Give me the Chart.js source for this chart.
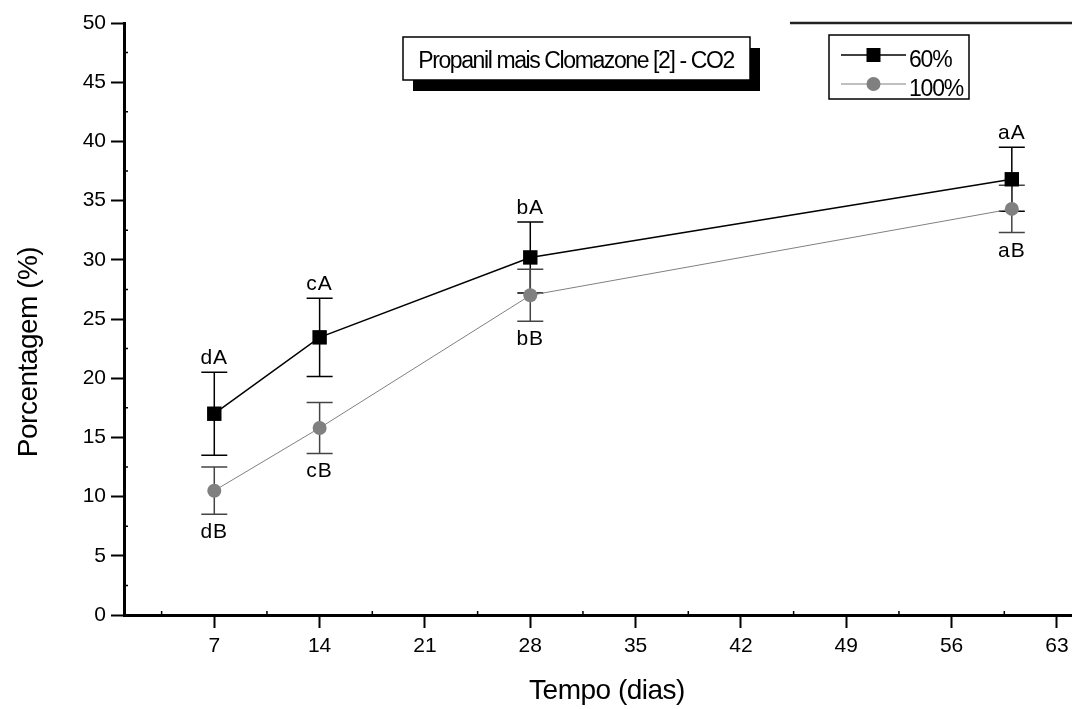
<!DOCTYPE html>
<html>
<head>
<meta charset="utf-8">
<script src="https://cdn.jsdelivr.net/npm/chart.js@4.4.1/dist/chart.umd.min.js"></script>
<style>
  html, body { margin: 0; padding: 0; background: #fff; }
  canvas { display: block; }
</style>
</head>
<body>
<canvas id="grafico" width="1072" height="709"></canvas>
<script>
// dados
const dias = [7, 14, 28, 60];
const media60 = [17.0, 23.45, 30.2, 36.8];
const erro60 = [3.5, 3.3, 3.0, 2.7];
const media100 = [10.5, 15.8, 27.0, 34.3];
const erro100 = [2.0, 2.15, 2.2, 2.0];
const letras60 = ['dA', 'cA', 'bA', 'aA'];
const letras100 = ['dB', 'cB', 'bB', 'aB'];
const ticksX = [7, 14, 21, 28, 35, 42, 49, 56, 63];
const ticksY = [0, 5, 10, 15, 20, 25, 30, 35, 40, 45, 50];
const seriesNomes = ['60%', '100%'];
const tituloCaixa = 'Propanil mais Clomazone [2] - CO2';

const FONTE = '"Liberation Sans", Arial, sans-serif';

function semPadding(s) {
  s.paddingLeft = 0; s.paddingRight = 0; s.paddingTop = 0; s.paddingBottom = 0;
}

// barras de erro e letras de significância
const errorBars = {
  id: 'errorBars',
  beforeDatasetsDraw(chart) {
    const ctx = chart.ctx;
    const x = chart.scales.x, y = chart.scales.y;
    const grupos = [
      { m: media60, e: erro60, cor: '#000' },
      { m: media100, e: erro100, cor: '#444' }
    ];
    ctx.save();
    grupos.forEach(g => {
      ctx.strokeStyle = g.cor;
      ctx.lineWidth = 1.5;
      dias.forEach((d, i) => {
        const px = x.getPixelForValue(d);
        const top = y.getPixelForValue(g.m[i] + g.e[i]);
        const bot = y.getPixelForValue(g.m[i] - g.e[i]);
        ctx.beginPath();
        ctx.moveTo(px, top); ctx.lineTo(px, bot);
        ctx.moveTo(px - 13, top); ctx.lineTo(px + 13, top);
        ctx.moveTo(px - 13, bot); ctx.lineTo(px + 13, bot);
        ctx.stroke();
      });
    });
    ctx.restore();
  },
  afterDatasetsDraw(chart) {
    const ctx = chart.ctx;
    const x = chart.scales.x, y = chart.scales.y;
    ctx.save();
    ctx.font = '21px ' + FONTE;
    ctx.fillStyle = '#000';
    ctx.textAlign = 'center';
    ctx.letterSpacing = '1px';
    dias.forEach((d, i) => {
      const px = x.getPixelForValue(d);
      const top = y.getPixelForValue(media60[i] + erro60[i]);
      const bot = y.getPixelForValue(media100[i] - erro100[i]);
      ctx.textBaseline = 'alphabetic';
      ctx.fillText(letras60[i], px, top - 8);
      ctx.fillText(letras100[i], px, bot + 24);
    });
    ctx.restore();
  }
};

// títulos dos eixos, caixa de título, legenda e ticks menores
const extras = {
  id: 'extras',
  afterDraw(chart) {
    const ctx = chart.ctx;
    const x = chart.scales.x, y = chart.scales.y;
    const area = chart.chartArea;
    ctx.save();

    // ticks menores (para dentro)
    ctx.strokeStyle = '#000';
    ctx.lineWidth = 1.5;
    ctx.beginPath();
    for (let v = 3.5; v < 64; v += 7) {
      const px = x.getPixelForValue(v);
      ctx.moveTo(px, area.bottom); ctx.lineTo(px, area.bottom - 4);
    }
    for (let v = 2.5; v < 50; v += 5) {
      const py = y.getPixelForValue(v);
      ctx.moveTo(area.left, py); ctx.lineTo(area.left + 4, py);
    }
    ctx.stroke();

    // linha superior parcial
    ctx.strokeStyle = '#222';
    ctx.lineWidth = 2.5;
    ctx.beginPath();
    ctx.moveTo(790, 23); ctx.lineTo(1072, 23);
    ctx.stroke();

    // títulos dos eixos
    ctx.fillStyle = '#000';
    ctx.font = '28px ' + FONTE;
    ctx.letterSpacing = '-0.5px';
    ctx.textAlign = 'center';
    ctx.textBaseline = 'alphabetic';
    ctx.fillText('Tempo (dias)', 607, 699);
    ctx.save();
    ctx.translate(37, 352);
    ctx.rotate(-Math.PI / 2);
    ctx.fillText('Porcentagem (%)', 0, 0);
    ctx.restore();

    // caixa do título com sombra
    ctx.fillStyle = '#000';
    ctx.fillRect(413, 48, 347, 43);
    ctx.fillStyle = '#fff';
    ctx.fillRect(403, 37, 347, 43);
    ctx.strokeStyle = '#000';
    ctx.lineWidth = 1.5;
    ctx.strokeRect(403, 37, 347, 43);
    ctx.fillStyle = '#000';
    ctx.font = '23px ' + FONTE;
    ctx.letterSpacing = '-1.4px';
    ctx.fillText(tituloCaixa, 576, 68);

    // legenda
    ctx.fillStyle = '#fff';
    ctx.fillRect(829, 35, 140, 64);
    ctx.strokeStyle = '#000';
    ctx.lineWidth = 1.5;
    ctx.strokeRect(829, 35, 140, 64);
    const linhas = [55, 84];
    chart.data.datasets.forEach((ds, i) => {
      const ly = linhas[i];
      ctx.strokeStyle = ds.borderColor;
      ctx.lineWidth = ds.borderWidth;
      ctx.beginPath();
      ctx.moveTo(841, ly); ctx.lineTo(906, ly);
      ctx.stroke();
      ctx.fillStyle = ds.pointBackgroundColor;
      if (ds.pointStyle === 'rect') {
        ctx.fillRect(866.5, ly - 7, 14, 14);
      } else {
        ctx.beginPath();
        ctx.arc(873.5, ly, 7, 0, Math.PI * 2);
        ctx.fill();
      }
      ctx.fillStyle = '#000';
      ctx.font = '23px ' + FONTE;
      ctx.letterSpacing = '-1.2px';
      ctx.textAlign = 'left';
      ctx.fillText(ds.label, 909, ly + 12);
    });

    ctx.restore();
  }
};

new Chart(document.getElementById('grafico'), {
  type: 'line',
  data: {
    datasets: [
      {
        label: seriesNomes[0],
        data: dias.map((d, i) => ({ x: d, y: media60[i] })),
        borderColor: '#000',
        borderWidth: 1.5,
        pointStyle: 'rect',
        pointRadius: 10.2,
        pointBackgroundColor: '#000',
        pointBorderColor: '#000',
        pointBorderWidth: 0,
        tension: 0
      },
      {
        label: seriesNomes[1],
        data: dias.map((d, i) => ({ x: d, y: media100[i] })),
        borderColor: '#808080',
        borderWidth: 1,
        pointStyle: 'circle',
        pointRadius: 7,
        pointBackgroundColor: '#808080',
        pointBorderColor: '#808080',
        pointBorderWidth: 0,
        tension: 0
      }
    ]
  },
  options: {
    responsive: false,
    devicePixelRatio: 1,
    animation: false,
    layout: { autoPadding: false, padding: { top: 23, right: 0, bottom: 0, left: 0 } },
    plugins: {
      legend: { display: false },
      tooltip: { enabled: false }
    },
    scales: {
      x: {
        type: 'linear',
        min: 1,
        max: 64,
        afterBuildTicks: s => { s.ticks = ticksX.map(v => ({ value: v })); },
        afterFit: s => { s.height = 94; semPadding(s); },
        ticks: {
          autoSkip: false,
          maxRotation: 0,
          padding: 6,
          color: '#000',
          font: { family: FONTE, size: 21 }
        },
        grid: {
          drawOnChartArea: false,
          drawTicks: true,
          tickLength: 13,
          tickWidth: 2,
          tickColor: '#000'
        },
        border: { display: true, width: 3, color: '#000' }
      },
      y: {
        min: 0,
        max: 50,
        afterBuildTicks: s => { s.ticks = ticksY.map(v => ({ value: v })); },
        afterFit: s => { s.width = 124; semPadding(s); },
        ticks: {
          padding: 5,
          color: '#000',
          font: { family: FONTE, size: 21 }
        },
        grid: {
          drawOnChartArea: false,
          drawTicks: true,
          tickLength: 13,
          tickWidth: 2,
          tickColor: '#000'
        },
        border: { display: true, width: 3, color: '#000' }
      }
    }
  },
  plugins: [errorBars, extras]
});
</script>
</body>
</html>
